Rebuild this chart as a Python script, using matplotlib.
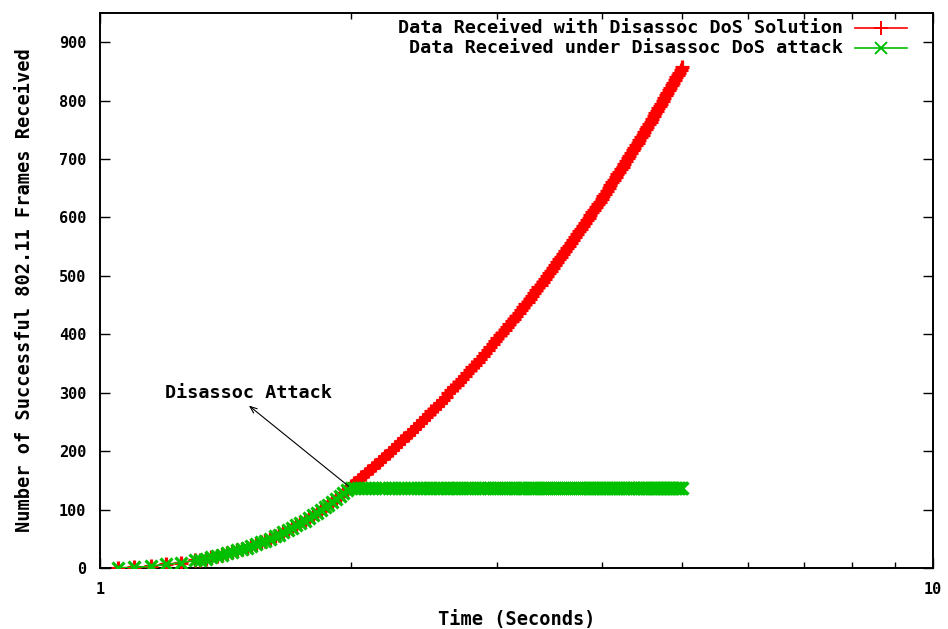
import matplotlib
matplotlib.use("Agg")
import matplotlib.pyplot as plt
from matplotlib.ticker import FixedLocator, NullFormatter

# Sample times (seconds) before the attack starts
pre_times = [1.05, 1.10, 1.15, 1.20, 1.25, 1.30, 1.32, 1.34, 1.36, 1.38,
             1.40, 1.42, 1.44, 1.46, 1.48, 1.50, 1.52, 1.54, 1.56, 1.58,
             1.60, 1.62, 1.64, 1.66, 1.68, 1.70, 1.72, 1.74, 1.76, 1.78,
             1.80, 1.82, 1.84, 1.86, 1.88, 1.90, 1.92, 1.94, 1.96, 1.98]

# Sample times (seconds) from the start of the attack onwards
post_times = [2.00, 2.02, 2.04, 2.06, 2.08, 2.10, 2.12, 2.14, 2.16, 2.18,
              2.20, 2.22, 2.24, 2.26, 2.28, 2.30, 2.32, 2.34, 2.36, 2.38,
              2.40, 2.42, 2.44, 2.46, 2.48, 2.50, 2.52, 2.54, 2.56, 2.58,
              2.60, 2.62, 2.64, 2.66, 2.68, 2.70, 2.72, 2.74, 2.76, 2.78,
              2.80, 2.82, 2.84, 2.86, 2.88, 2.90, 2.92, 2.94, 2.96, 2.98,
              3.00, 3.02, 3.04, 3.06, 3.08, 3.10, 3.12, 3.14, 3.16, 3.18,
              3.20, 3.22, 3.24, 3.26, 3.28, 3.30, 3.32, 3.34, 3.36, 3.38,
              3.40, 3.42, 3.44, 3.46, 3.48, 3.50, 3.52, 3.54, 3.56, 3.58,
              3.60, 3.62, 3.64, 3.66, 3.68, 3.70, 3.72, 3.74, 3.76, 3.78,
              3.80, 3.82, 3.84, 3.86, 3.88, 3.90, 3.92, 3.94, 3.96, 3.98,
              4.00, 4.02, 4.04, 4.06, 4.08, 4.10, 4.12, 4.14, 4.16, 4.18,
              4.20, 4.22, 4.24, 4.26, 4.28, 4.30, 4.32, 4.34, 4.36, 4.38,
              4.40, 4.42, 4.44, 4.46, 4.48, 4.50, 4.52, 4.54, 4.56, 4.58,
              4.60, 4.62, 4.64, 4.66, 4.68, 4.70, 4.72, 4.74, 4.76, 4.78,
              4.80, 4.82, 4.84, 4.86, 4.88, 4.90, 4.92, 4.94, 4.96, 4.98,
              5.00]

# Frames received before the attack starts (common to both runs)
pre_attack = [0, 1, 3, 6, 9, 13, 14, 16, 18, 20,
              22, 25, 27, 30, 32, 35, 38, 41, 44, 47,
              50, 54, 57, 61, 65, 69, 73, 77, 81, 85,
              90, 94, 99, 104, 108, 113, 118, 124, 129, 134]

# Frames received after the attack starts, with the DoS solution in place
post_solution = [
    140, 145, 150, 156, 161, 166, 171, 176, 181, 187,
    192, 197, 202, 207, 212, 217, 222, 228, 233, 238,
    243, 248, 253, 258, 263, 268, 273, 278, 283, 288,
    293, 299, 304, 309, 314, 319, 324, 329, 334, 339,
    344, 348, 353, 358, 363, 368, 373, 378, 383, 388,
    393, 398, 403, 408, 413, 418, 422, 427, 432, 437,
    442, 447, 452, 456, 461, 466, 471, 476, 481, 485,
    490, 495, 500, 505, 509, 514, 519, 524, 529, 533,
    538, 543, 548, 552, 557, 562, 566, 571, 576, 581,
    585, 590, 595, 599, 604, 609, 613, 618, 623, 627,
    632, 637, 641, 646, 651, 655, 660, 664, 669, 674,
    678, 683, 687, 692, 696, 701, 706, 710, 715, 719,
    724, 728, 733, 737, 742, 746, 751, 755, 760, 764,
    769, 773, 778, 782, 787, 791, 795, 800, 804, 809,
    813, 818, 822, 826, 831, 835, 840, 844, 848, 853,
    857]

# Frames received under attack: delivery stalls once the attack begins
attack_plateau = 137

time_s = pre_times + post_times
with_solution = pre_attack + post_solution
under_attack = pre_attack + [attack_plateau] * len(post_times)

label_solution = "Data Received with Disassoc DoS Solution"
label_attack = "Data Received under Disassoc DoS attack"

RED = "#ff0000"
GREEN = "#00c000"
FONT = "DejaVu Sans Mono"

plt.rcParams["font.family"] = [FONT, "DejaVu Sans"]
plt.rcParams["font.weight"] = "bold"

W, H = 948, 629
fig = plt.figure(figsize=(W / 100, H / 100), dpi=100)
left, right, top, bottom = 100, 933, 13, 568
ax = fig.add_axes([left / W, 1 - bottom / H, (right - left) / W, (bottom - top) / H])

ax.plot(time_s, with_solution, color=RED, marker="+", markersize=10,
        markeredgewidth=2.3, linewidth=1.2, zorder=3)
ax.plot(time_s, under_attack, color=GREEN, marker="x", markersize=8,
        markeredgewidth=2.3, linewidth=1.2, zorder=4)

ax.set_xscale("log")
ax.set_xlim(1, 10)
ax.set_ylim(0, 950)
ax.xaxis.set_major_locator(FixedLocator([1, 10]))
ax.set_xticklabels(["1", "10"])
ax.xaxis.set_minor_locator(FixedLocator([2, 3, 4, 5, 6, 7, 8, 9]))
ax.xaxis.set_minor_formatter(NullFormatter())
ax.set_yticks(range(0, 1000, 100))

ax.tick_params(which="major", direction="in", top=True, right=True,
               length=7, width=1.0, labelsize=11, pad=10)
ax.tick_params(which="minor", direction="in", top=True, right=True,
               length=4, width=1.0)
for lab in ax.get_xticklabels() + ax.get_yticklabels():
    lab.set_fontweight("bold")
for sp in ax.spines.values():
    sp.set_linewidth(1.4)

fig.text((left + right) / 2 / W, 1 - 620 / H, "Time (Seconds)",
         ha="center", va="center", fontsize=13.4, fontweight="bold")
fig.text(25 / W, 1 - 290 / H, "Number of Successful 802.11 Frames Received",
         ha="center", va="center", rotation=90, fontsize=13.4, fontweight="bold")

# Annotation pointing to the moment the attack starts
ax.annotate("", xy=(1.50, 281), xytext=(2.0, attack_plateau),
            arrowprops=dict(arrowstyle="->,head_length=0.5,head_width=0.2",
                            color="black", lw=0.8), zorder=5)
ax.text(1.197, 300, "Disassoc Attack", ha="left", va="center",
        fontsize=13.3, fontweight="bold")

# Key drawn in gnuplot style: right-aligned labels followed by sample lines
def frac_x(px):
    return (px - left) / (right - left)

def frac_y(py):
    return (bottom - py) / (bottom - top)

for py, text, color, mk, ms in [(28, label_solution, RED, "+", 10),
                                (48, label_attack, GREEN, "x", 8)]:
    ax.text(frac_x(843), frac_y(py), text, transform=ax.transAxes,
            ha="right", va="center", fontsize=13.3, fontweight="bold")
    ax.plot([frac_x(855), frac_x(907)], [frac_y(py)] * 2, color=color,
            linewidth=1.2, transform=ax.transAxes, clip_on=False)
    ax.plot([frac_x(881)], [frac_y(py)], color=color, marker=mk,
            markersize=ms, markeredgewidth=1.4, transform=ax.transAxes,
            clip_on=False)

fig.savefig("out.png", dpi=100)
